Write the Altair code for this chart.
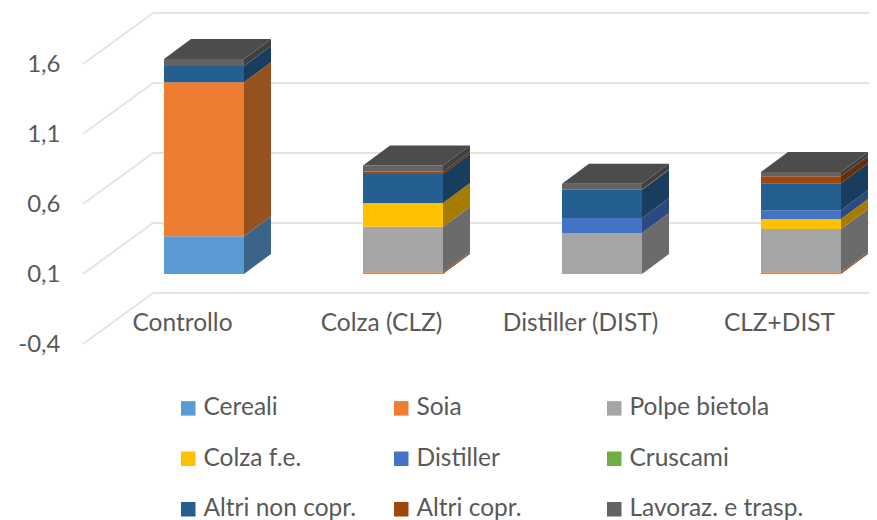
import altair as alt
import pandas as pd

categories = ["Controllo", "Colza (CLZ)", "Distiller (DIST)", "CLZ+DIST"]
series = ["Cereali", "Soia", "Polpe bietola", "Colza f.e.", "Distiller", "Cruscami",
          "Altri non copr.", "Altri copr.", "Lavoraz. e trasp."]
cereali = [0.27, 0.0, 0.0, 0.0]
soia = [1.10, 0.012, 0.0, 0.012]
polpe = [0.0, 0.325, 0.293, 0.31]
colza = [0.0, 0.17, 0.0, 0.07]
distiller = [0.0, 0.0, 0.107, 0.064]
cruscami = [0.0, 0.0, 0.0, 0.0]
altri_non = [0.115, 0.207, 0.20, 0.193]
altri_copr = [0.0, 0.018, 0.005, 0.05]
lavoraz = [0.05, 0.043, 0.04, 0.03]
columns = [cereali, soia, polpe, colza, distiller, cruscami, altri_non, altri_copr, lavoraz]
front_colors = ["#5b9bd5", "#ed7d31", "#a5a5a5", "#ffc000", "#4472c4", "#70ad47",
                "#255e91", "#9e480e", "#636363"]
side_colors = ["#3a6488", "#97511f", "#6b6b6b", "#a67c00", "#2c4a7f", "#48702e",
               "#183d5e", "#672f09", "#404040"]
top_color = "#4c4c4c"
tick_values = [-0.4, 0.1, 0.6, 1.1, 1.6]

BASE = 0.1
BAR = 80 / 199
DX = 27 / 199
DY = 20 / 140
WALL_DX = 70 / 199
WALL_DY = 51 / 140
X_MIN = -121 / 199
X_MAX = 665 / 199
Y_MIN, Y_MAX = -0.4, 2.0

front, side, top = [], [], []
for i, cat in enumerate(categories):
    x0, x1 = i - BAR / 2, i + BAR / 2
    level = BASE
    for s, col, sc in zip(series, columns, side_colors):
        v = col[i]
        if v <= 0:
            continue
        lo, hi = level, level + v
        front.append(dict(series=s, x0=x0, x1=x1, lo=lo, hi=hi))
        key = f"{i}-{s}"
        side.append(dict(key=key, fill=sc, x=x1, lo=lo, hi=hi))
        side.append(dict(key=key, fill=sc, x=x1 + DX, lo=lo + DY, hi=hi + DY))
        level = hi
    top += [
        dict(key=str(i), x=x0, lo=level, hi=level),
        dict(key=str(i), x=x0 + DX, lo=level, hi=level + DY),
        dict(key=str(i), x=x1, lo=level, hi=level + DY),
        dict(key=str(i), x=x1 + DX, lo=level + DY, hi=level + DY),
    ]

wall = pd.DataFrame(dict(
    v=tick_values,
    back=[t + WALL_DY for t in tick_values],
    x0=[X_MIN] * 5,
    x1=[X_MIN + WALL_DX] * 5,
    x2=[X_MAX] * 5,
))

x_scale = alt.Scale(domain=[X_MIN, X_MAX], nice=False, zero=False)
y_scale = alt.Scale(domain=[Y_MIN, Y_MAX], nice=False, zero=False)
GRID = "#e4e4e4"
TEXT = "#595959"
FONT = "Lato"

label_expr = "['" + "','".join(categories) + "'][datum.value]"
x_axis = alt.Axis(values=[0, 1, 2, 3], labelExpr=label_expr, title=None, domain=False, ticks=False,
                  grid=False, offset=-33, labelPadding=0, labelOffset=-22, labelFontSize=24.5,
                  labelFont=FONT, labelColor=TEXT, labelOverlap=False)
y_axis = alt.Axis(values=tick_values, labelExpr="replace('' + datum.value, '.', ',')",
                  title=None, domain=False, ticks=False, grid=False, labelPadding=23,
                  labelFontSize=24, labelFont=FONT, labelColor=TEXT)

diag = alt.Chart(wall).mark_rule(color=GRID, strokeWidth=2).encode(
    x=alt.X("x0:Q", scale=x_scale, axis=x_axis),
    x2="x1:Q",
    y=alt.Y("v:Q", scale=y_scale, axis=y_axis),
    y2="back:Q",
)
horiz = alt.Chart(wall).mark_rule(color=GRID, strokeWidth=2).encode(
    x=alt.X("x1:Q", scale=x_scale),
    x2="x2:Q",
    y=alt.Y("back:Q", scale=y_scale),
)
sides = alt.Chart(pd.DataFrame(side)).mark_area(interpolate="linear").encode(
    x=alt.X("x:Q", scale=x_scale),
    y=alt.Y("lo:Q", scale=y_scale),
    y2="hi:Q",
    detail="key:N",
    fill=alt.Fill("fill:N", scale=None, legend=None),
)
fronts = alt.Chart(pd.DataFrame(front)).mark_rect().encode(
    x=alt.X("x0:Q", scale=x_scale),
    x2="x1:Q",
    y=alt.Y("lo:Q", scale=y_scale),
    y2="hi:Q",
    color=alt.Color("series:N", scale=alt.Scale(domain=series, range=front_colors), sort=series,
                    legend=alt.Legend(title=None, orient="none", legendX=93, legendY=388, columns=3,
                                      direction="horizontal",
                                      symbolType="square", symbolSize=210, symbolStrokeWidth=0,
                                      labelFont=FONT, labelFontSize=24.5, labelColor=TEXT, labelOffset=3,
                                      labelLimit=220, gridAlign="all", columnPadding=11, rowPadding=25.5,
                                      padding=0)),
)
tops = alt.Chart(pd.DataFrame(top)).mark_area(interpolate="linear", color=top_color).encode(
    x=alt.X("x:Q", scale=x_scale),
    y=alt.Y("lo:Q", scale=y_scale),
    y2="hi:Q",
    detail="key:N",
)

chart = alt.layer(diag, horiz, sides, fronts, tops).properties(
    width=786, height=336,
    autosize=alt.AutoSizeParams(type="none"),
    padding={"left": 75, "top": 0, "right": 0, "bottom": 176},
).configure_view(stroke=None)

chart.save("out.html", embed_options={"renderer": "svg", "actions": False})
